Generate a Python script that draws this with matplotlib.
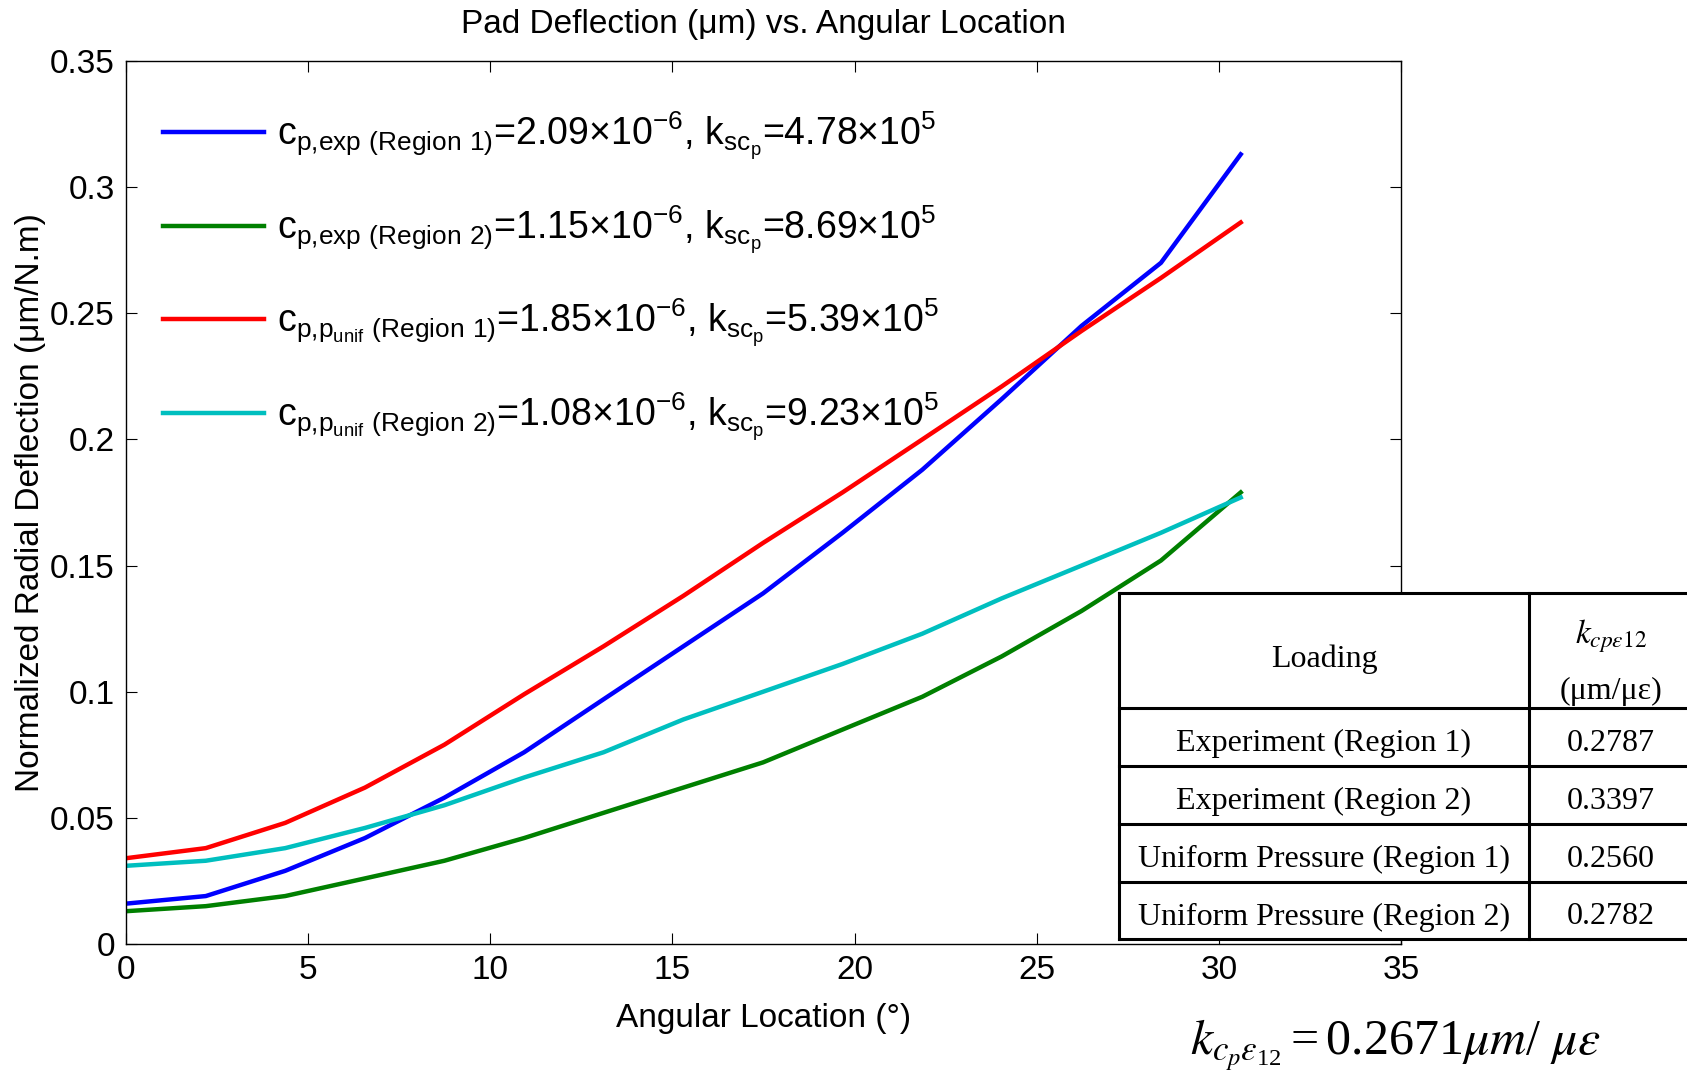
import matplotlib
matplotlib.use("Agg")
import matplotlib.pyplot as plt
from matplotlib.lines import Line2D
from matplotlib.patches import Rectangle
from matplotlib.ticker import FormatStrFormatter

plt.rcParams["font.family"] = ["Liberation Sans", "DejaVu Sans"]
plt.rcParams["mathtext.default"] = "regular"

# angular location (deg)
angle = [0, 2.19, 4.37, 6.56, 8.74, 10.93, 13.11, 15.30, 17.49, 19.67, 21.86, 24.04, 26.23, 28.41, 30.60]

# normalized radial deflection (um/N.m)
exp_r1 = [0.016, 0.019, 0.029, 0.042, 0.058, 0.076, 0.097, 0.118, 0.139, 0.163, 0.188, 0.216, 0.245, 0.270, 0.313]
exp_r2 = [0.013, 0.015, 0.019, 0.026, 0.033, 0.042, 0.052, 0.062, 0.072, 0.085, 0.098, 0.114, 0.132, 0.152, 0.179]
unif_r1 = [0.034, 0.038, 0.048, 0.062, 0.079, 0.099, 0.118, 0.138, 0.159, 0.179, 0.200, 0.221, 0.243, 0.264, 0.286]
unif_r2 = [0.031, 0.033, 0.038, 0.046, 0.055, 0.066, 0.076, 0.089, 0.100, 0.111, 0.123, 0.137, 0.150, 0.163, 0.177]

labels = [
    r"c$_{p{,}exp\ (Region\ 1)}$=2.09×10$^{-6}$, k$_{sc_{p}}$=4.78×10$^{5}$",
    r"c$_{p{,}exp\ (Region\ 2)}$=1.15×10$^{-6}$, k$_{sc_{p}}$=8.69×10$^{5}$",
    r"c$_{p{,}p_{unif}\ (Region\ 1)}$=1.85×10$^{-6}$, k$_{sc_{p}}$=5.39×10$^{5}$",
    r"c$_{p{,}p_{unif}\ (Region\ 2)}$=1.08×10$^{-6}$, k$_{sc_{p}}$=9.23×10$^{5}$",
]
colors = ["#0000ff", "#008000", "#ff0000", "#00bfbf"]

table_loading = ["Experiment (Region 1)", "Experiment (Region 2)",
                 "Uniform Pressure (Region 1)", "Uniform Pressure (Region 2)"]
table_k = ["0.2787", "0.3397", "0.2560", "0.2782"]

W, H = 1687, 1085
fig = plt.figure(figsize=(W / 100, H / 100), dpi=100)
ax = fig.add_axes([126 / W, 1 - 944 / H, (1401 - 126) / W, (944 - 61) / H])

for ys, c, lab in zip([exp_r1, exp_r2, unif_r1, unif_r2], colors, labels):
    ax.plot(angle, ys, color=c, lw=3.2, label=lab)

ax.set_xlim(0, 35)
ax.set_ylim(0, 0.35)
ax.set_xticks(range(0, 36, 5))
ax.set_yticks([0, 0.05, 0.1, 0.15, 0.2, 0.25, 0.3, 0.35])
ax.yaxis.set_major_formatter(FormatStrFormatter("%g"))
ax.tick_params(direction="in", top=True, right=True, length=8, width=0.8,
               labelsize=24, pad=8)
for s in ax.spines.values():
    s.set_linewidth(1.0)

ax.set_xlabel("Angular Location (°)", fontsize=24, labelpad=12)
ax.set_ylabel("Normalized Radial Deflection (μm/N.m)", fontsize=24, labelpad=3)
fig.text(763 / W, 1 - 24 / H, "Pad Deflection (μm) vs. Angular Location",
         fontsize=24, ha="center", va="center")

leg = ax.legend(loc="upper left", bbox_to_anchor=(0.029, 0.945), frameon=False,
                prop={"size": 27}, borderpad=0, borderaxespad=0,
                handlelength=2.7, handletextpad=0.35, labelspacing=1.1)

# table on top of the axes
px = lambda x, y: (x / W, 1 - y / H)
tx0, tx1, tx2 = 1119, 1529, 1700
rows_y = [593, 708, 766, 824, 882, 939]
fig.add_artist(Rectangle(px(tx0, rows_y[-1]), (tx2 - tx0) / W, (rows_y[-1] - rows_y[0]) / H,
                         transform=fig.transFigure, facecolor="white", edgecolor="none", zorder=5))
for y in rows_y:
    fig.add_artist(Line2D([tx0 / W, tx2 / W], [1 - y / H] * 2, color="black", lw=2.2,
                          transform=fig.transFigure, zorder=6))
for x in [tx0, tx1]:
    fig.add_artist(Line2D([x / W] * 2, [1 - rows_y[0] / H, 1 - rows_y[-1] / H], color="black",
                          lw=2.2, transform=fig.transFigure, zorder=6))

serif = ["Liberation Serif", "DejaVu Serif"]
c1 = (tx0 + tx1) / 2
c2 = 1611
fig.text(c1 / W, 1 - 656 / H, "Loading", family=serif, fontsize=23, ha="center",
         va="center_baseline", zorder=7)
fig.text(c2 / W, 1 - 630 / H, r"$\mathit{k}_{\mathit{cp\varepsilon 12}}$", math_fontfamily="stix",
         family=serif, fontsize=24, ha="center", va="center_baseline", zorder=7)
fig.text(c2 / W, 1 - 688 / H, "(μm/με)", family=serif, fontsize=23, ha="center",
         va="center_baseline", zorder=7)
for i, (name, k) in enumerate(zip(table_loading, table_k)):
    yc = (rows_y[i + 1] + rows_y[i + 2]) / 2 + 3
    fig.text(c1 / W, 1 - yc / H, name, family=serif, fontsize=23, ha="center",
             va="center_baseline", zorder=7)
    fig.text(c2 / W, 1 - yc / H, k, family=serif, fontsize=23, ha="center",
             va="center_baseline", zorder=7)

fig.text(1190 / W, 1 - 1045 / H,
         r"$\mathit{k}_{\mathit{c}_{\mathit{p}}\mathit{\varepsilon}_{12}}=0.2671\mathit{\mu m}/\ \mathit{\mu\varepsilon}$",
         math_fontfamily="stix", family=serif, fontsize=36, ha="left", va="center")

fig.savefig("out.png", dpi=100)
